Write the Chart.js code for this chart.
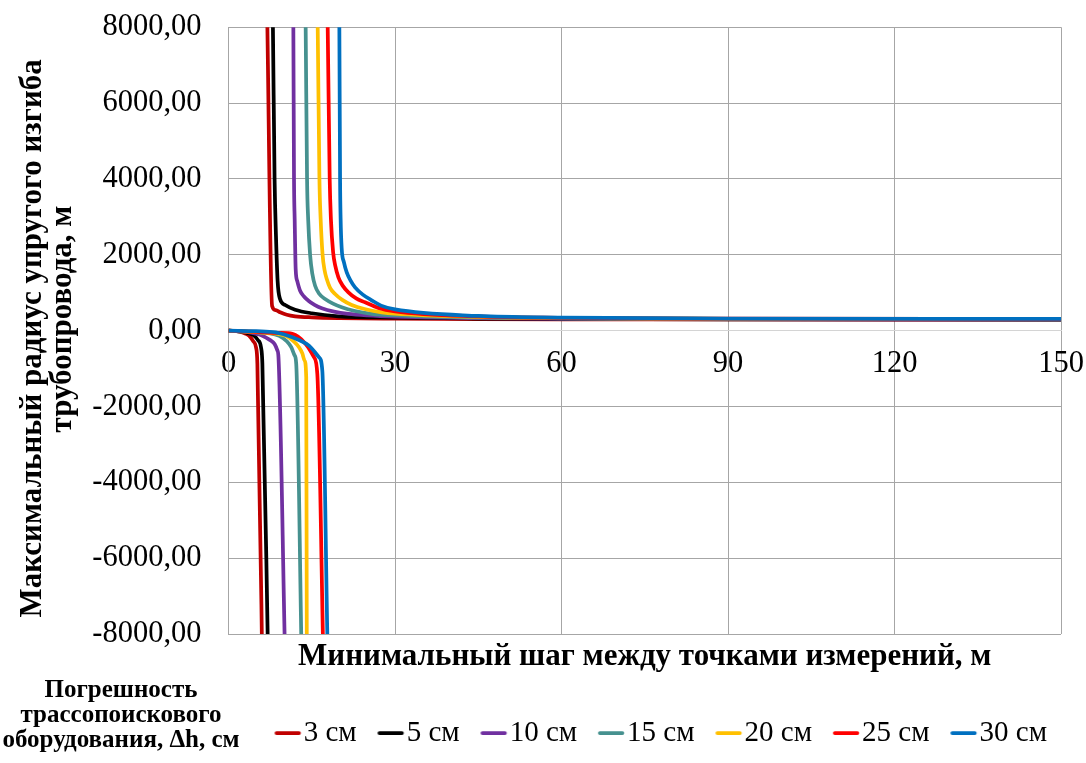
<!DOCTYPE html>
<html>
<head>
<meta charset="utf-8">
<title>Максимальный радиус упругого изгиба трубопровода</title>
<script src="https://cdn.jsdelivr.net/npm/chart.js@4.4.1/dist/chart.umd.min.js"></script>
<style>
  html, body { margin: 0; padding: 0; background: #fff; }
  #wrap { width: 1086px; height: 763px; }
</style>
</head>
<body>
<div id="wrap"><canvas id="chart" width="1086" height="763"></canvas></div>
<script>
// DATA (x = шаг, м; R = радиус, м; null = разрыв у асимптоты)
const seriesLabels = ['3 см', '5 см', '10 см', '15 см', '20 см', '25 см', '30 см'];
const xTicks = [0, 30, 60, 90, 120, 150];
const yTicks = [-8000, -6000, -4000, -2000, 0, 2000, 4000, 6000, 8000];

const L3 = [0, 2, 3, 3.7, 4.5, 4.95, 5.2, 6.0, 6.05, 6.5, 6.95, 7.85, 8.5, 9.3, 10.5, 12, 15, 20, 30, 45, 60, 90, 150];
const R3 = [0, -30, -75, -132, -290, -437, -877, -8000, -8600, null, 8500, 650, 540, 484, 420, 379, 350, 330, 316, 305, 300, 294, 290];

const L5 = [0, 2, 3.5, 4.6, 5.3, 5.85, 6.1, 7.05, 7.12, 7.5, 7.95, 8.0, 8.3, 8.55, 8.85, 9.28, 10.2, 12, 15, 19.8, 30, 45, 60, 90, 150];
const R5 = [0, -20, -65, -132, -250, -437, -877, -8000, -8600, null, 8500, 8000, 4000, 2500, 1300, 834, 676, 553, 458, 379, 342, 320, 310, 300, 293];

const L10 = [0, 3, 6.1, 7.5, 8.3, 8.8, 9.0, 10.1, 10.17, 11, 11.65, 11.68, 11.8, 11.92, 12.1, 12.4, 12.9, 13.6, 14.4, 15.5, 16.8, 19, 21.6, 25, 30, 45, 60, 90, 150];
const R10 = [0, -30, -132, -250, -350, -520, -700, -8000, -8500, null, 8500, 8000, 4000, 2940, 1623, 1300, 1053, 900, 790, 680, 590, 500, 440, 400, 368, 330, 315, 305, 297];

const L15 = [0, 4, 9.1, 10.5, 11.3, 11.9, 12.2, 13.1, 13.17, 13.5, 13.85, 13.9, 14.15, 14.35, 14.7, 15.1, 15.6, 16.3, 17.4, 20.4, 25.8, 30, 45, 60, 90, 150];
const R15 = [0, -35, -132, -280, -437, -650, -877, -8000, -8600, null, 8600, 8000, 4000, 2940, 2000, 1500, 1184, 980, 834, 616, 440, 405, 345, 325, 310, 300];

const L20 = [0, 5, 10.3, 11.8, 12.7, 13.3, 13.7, 14.0, 14.1, 14.11, 15, 16.0, 16.07, 16.38, 16.6, 16.95, 17.3, 17.7, 18.3, 19.2, 20.5, 22.2, 24.5, 27.6, 30, 45, 60, 90, 150];
const R20 = [0, -40, -132, -290, -437, -600, -790, -1226, -8000, -8600, null, 8600, 8000, 4000, 2940, 2000, 1600, 1360, 1130, 966, 810, 676, 570, 484, 447, 360, 330, 312, 302];

const L25 = [0, 5, 9, 11.5, 13.9, 15.4, 16.0, 17.0, 17.08, 17.4, 17.8, 17.87, 18.23, 18.45, 18.85, 19.25, 19.8, 20.6, 21.6, 23, 24.6, 27, 30, 45, 60, 90, 150];
const R25 = [0, -30, -60, -87, -350, -700, -1140, -8000, -8600, null, 8600, 8000, 4000, 2940, 2063, 1700, 1405, 1180, 1010, 850, 747, 600, 510, 375, 338, 316, 304];

const L30 = [0, 5, 8.5, 11.5, 14.5, 16.3, 16.9, 17.8, 17.88, 18.5, 19.95, 19.97, 20.1, 20.2, 20.4, 20.8, 21.3, 22, 22.8, 24.2, 25.8, 27.5, 30, 45, 60, 90, 150];
const R30 = [0, -15, -44, -174, -395, -700, -1053, -8000, -8600, null, 8600, 8000, 4000, 2940, 2150, 1800, 1537, 1320, 1142, 950, 800, 660, 560, 387, 345, 320, 308];

const seriesL = [L3, L5, L10, L15, L20, L25, L30];
const seriesR = [R3, R5, R10, R15, R20, R25, R30];

// NBSP pad the lines so each one sits where it does in the original
const yTitle = ['Максимальный радиус упругого изгиба\u00A0\u00A0', '\u00A0\u00A0\u00A0трубопровода, м'];
const xTitle = 'Минимальный шаг между точками измерений, м';
const legendTitle = ['Погрешность', 'трассопоискового', 'оборудования, Δh, см'];

// STYLE
const colors = ['#C00000', '#000000', '#7030A0', '#46918F', '#FFC000', '#FF0000', '#0070C0'];
const GRID = '#a6a6a6';
const ZERO = '#d4d4d4';

Chart.defaults.font.family = "'Liberation Serif', 'Times New Roman', serif";
Chart.defaults.color = '#000';

// short line used as legend marker, shifted right so it nearly touches the text
function swatch(color) {
  const c = document.createElement('canvas');
  c.width = 50; c.height = 8;
  const g = c.getContext('2d');
  g.strokeStyle = color;
  g.lineWidth = 3.75;
  g.lineCap = 'round';
  g.beginPath();
  g.moveTo(23, 4);
  g.lineTo(45.5, 4);
  g.stroke();
  return c;
}
const swatches = colors.map(swatch);

const datasets = seriesLabels.map((name, i) => ({
  label: name,
  data: seriesL[i].map((x, j) => ({x: x, y: seriesR[i][j]})),
  showLine: true,
  borderColor: colors[i],
  backgroundColor: colors[i],
  borderWidth: 3.75,
  borderJoinStyle: 'round',
  pointRadius: 0,
  pointHoverRadius: 0,
  cubicInterpolationMode: 'monotone',
  spanGaps: false,
  order: seriesLabels.length - i
}));

const legendTitlePlugin = {
  id: 'legendTitle',
  afterDraw(chart) {
    const ctx = chart.ctx;
    ctx.save();
    ctx.font = "bold 25px 'Liberation Serif', serif";
    ctx.fillStyle = '#000';
    ctx.textAlign = 'center';
    ctx.textBaseline = 'middle';
    legendTitle.forEach((t, i) => ctx.fillText(t, 121, 691 + i * 25));
    ctx.restore();
  }
};

const ctx = document.getElementById('chart');

const myChart = new Chart(ctx, {
  type: 'scatter',
  data: { datasets: datasets },
  plugins: [legendTitlePlugin],
  options: {
    responsive: false,
    animation: false,
    layout: { padding: { top: 0, right: 25, bottom: 5.5, left: 0 } },
    scales: {
      x: {
        type: 'linear',
        min: 0,
        max: 150,
        position: { y: 0 },
        afterBuildTicks: s => { s.ticks = xTicks.map(v => ({value: v})); },
        grid: { color: GRID, drawTicks: false },
        border: { color: ZERO },
        ticks: { font: { size: 30.5, lineHeight: '66px' }, padding: 0, maxRotation: 0, autoSkip: false }
      },
      x2: {
        type: 'linear',
        min: 0,
        max: 150,
        position: 'bottom',
        grid: { display: false, drawTicks: false },
        border: { display: false },
        ticks: { display: false },
        title: {
          display: true,
          text: xTitle,
          font: { size: 31, weight: 'bold', lineHeight: 0.97 },
          padding: { top: 7.9, bottom: 32.5 }
        }
      },
      y: {
        type: 'linear',
        min: -8000,
        max: 8000,
        position: 'left',
        afterBuildTicks: s => { s.ticks = yTicks.map(v => ({value: v})); },
        grid: {
          color: c => (c.tick && c.tick.value === 0) ? ZERO : GRID,
          drawTicks: false
        },
        border: { color: GRID },
        ticks: {
          font: { size: 30.5, lineHeight: '0.5px' },
          padding: 27,
          callback: v => v.toFixed(2).replace('.', ',')
        },
        title: {
          display: true,
          text: yTitle,
          font: { size: 31, weight: 'bold', lineHeight: 0.97 },
          padding: { top: 18, bottom: -12.9 }
        }
      }
    },
    plugins: {
      tooltip: { enabled: false },
      legend: {
        position: 'bottom',
        align: 'end',
        labels: {
          font: { size: 29 },
          color: '#000',
          usePointStyle: true,
          boxWidth: 21.5,
          padding: 14,
          sort: (a, b) => a.datasetIndex - b.datasetIndex,
          generateLabels: chart => Chart.defaults.plugins.legend.labels.generateLabels(chart).map(it => {
            it.pointStyle = swatches[it.datasetIndex];
            return it;
          })
        }
      }
    }
  }
});
</script>
</body>
</html>
